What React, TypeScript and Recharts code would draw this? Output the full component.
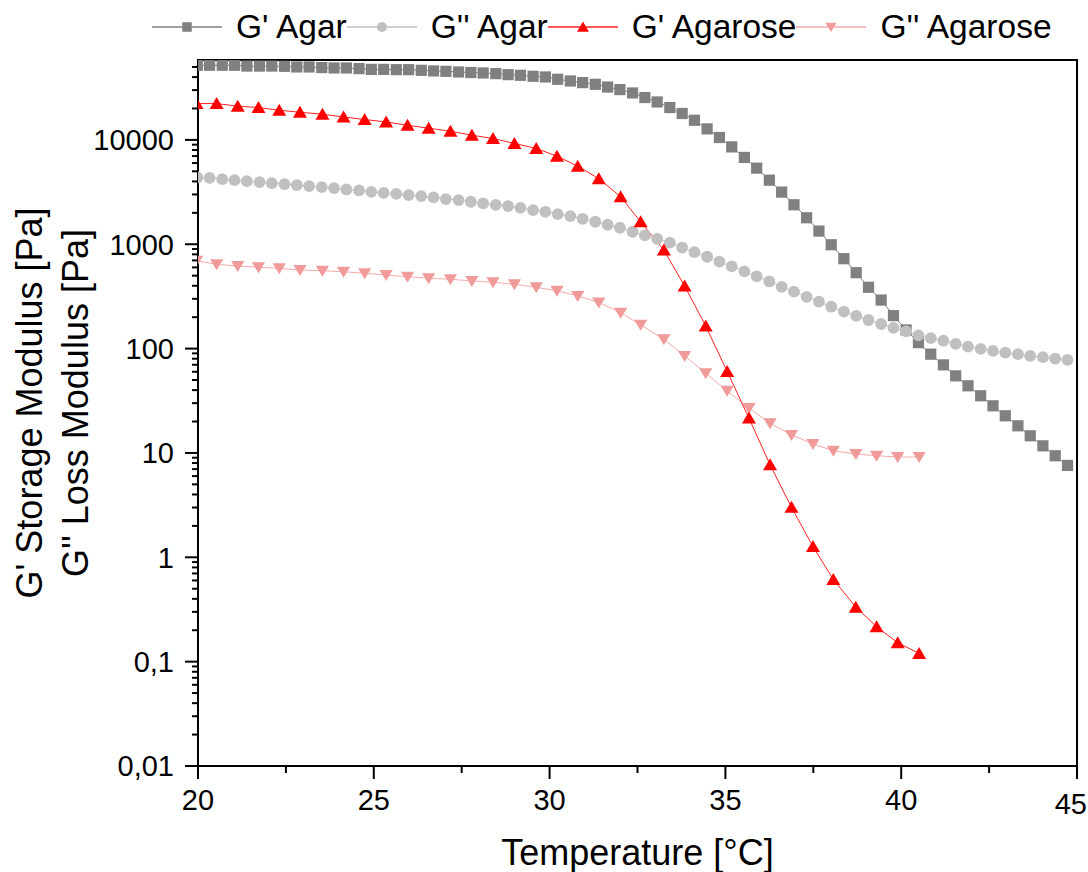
import React from 'react';
import { LineChart, Line, XAxis, YAxis, ReferenceArea, Label } from 'recharts';

// ---- Data ----
const agarTemp = [
  19.98, 20.33, 20.69, 21.04, 21.39, 21.75, 22.1, 22.46, 22.81, 23.16,
  23.52, 23.87, 24.22, 24.58, 24.93, 25.28, 25.64, 25.99, 26.35, 26.7,
  27.05, 27.41, 27.76, 28.11, 28.47, 28.82, 29.17, 29.53, 29.88, 30.23,
  30.59, 30.94, 31.3, 31.65, 32.0, 32.36, 32.71, 33.06, 33.42, 33.77,
  34.12, 34.48, 34.83, 35.18, 35.54, 35.89, 36.25, 36.6, 36.95, 37.31,
  37.66, 38.01, 38.37, 38.72, 39.07, 39.43, 39.78, 40.14, 40.49, 40.84,
  41.2, 41.55, 41.9, 42.26, 42.61, 42.96, 43.32, 43.67, 44.03, 44.38, 44.73,
];
const agarGp = [
  51900, 51900, 51900, 51900, 51000, 51000, 51000, 50700, 50000, 50000,
  49300, 48900, 48900, 48200, 47400, 47400, 47100, 47100, 46450, 45800,
  45400, 44770, 44200, 43800, 43150, 42200, 41600, 40700, 40100, 38100,
  36700, 35400, 34100, 32100, 30350, 28180, 25470, 23100, 20420, 17900,
  15420, 12750, 10540, 8570, 6790, 5360, 4110, 3160, 2390, 1794,
  1337, 989, 727, 534, 387, 292, 207, 151, 114, 88.4,
  69.8, 54.8, 44.0, 35.3, 28.3, 22.7, 18.2, 14.6, 11.7, 9.4, 7.59,
];
const agarGpp = [
  4365, 4330, 4205, 4115, 4025, 3940, 3850, 3770, 3690, 3610,
  3530, 3455, 3350, 3280, 3180, 3110, 3043, 2957, 2893, 2810,
  2710, 2650, 2553, 2463, 2388, 2320, 2235, 2124, 2047, 1946,
  1862, 1754, 1642, 1537, 1439, 1318, 1217, 1127, 1038, 930,
  841, 759, 682, 614, 550, 493, 440, 391, 351, 313,
  282, 252, 226, 206, 188, 172, 158, 146, 134, 126,
  119, 111, 104.5, 99.3, 95.1, 91.6, 88.4, 85.1, 82.8, 80.2, 78.0,
];
const agaroseTemp = [
  19.96, 20.53, 21.13, 21.72, 22.31, 22.9, 23.54, 24.14, 24.74, 25.35,
  25.96, 26.56, 27.18, 27.79, 28.39, 29.0, 29.62, 30.21, 30.8, 31.4,
  32.02, 32.59, 33.25, 33.84, 34.44, 35.05, 35.67, 36.27, 36.88, 37.49,
  38.07, 38.71, 39.3, 39.9, 40.51,
];
const agaroseGp = [
  22300, 22300, 21030, 20420, 19240, 18410, 17620, 16600, 15670, 14860,
  13820, 12940, 12110, 11090, 10310, 9240, 8280, 6990, 5600, 4250,
  2850, 1640, 880, 398, 165, 60.3, 21.6, 7.7, 3.01, 1.27,
  0.612, 0.333, 0.216, 0.152, 0.12,
];
const agaroseGpp = [
  695, 642, 619, 601, 588, 566, 558, 545, 527, 507,
  489, 472, 462, 445, 432, 413, 387, 358, 320, 277,
  221, 169, 123, 85, 58.2, 39.4, 26.9, 19.3, 14.9, 12.2,
  10.5, 9.76, 9.4, 9.14, 9.14,
];

const xMajorTicks = [20, 25, 30, 35, 40, 45];
const xMinorTicks = [22.5, 27.5, 32.5, 37.5, 42.5];
const yMajorTicks = [0.01, 0.1, 1, 10, 100, 1000, 10000];
const yMinorMultipliers = [2, 3, 4, 5, 6, 7, 8, 9];
const xDomain = [20, 45];
const yDomain = [0.01, 58300];

const seriesNames = ["G' Agar", "G'' Agar", "G' Agarose", "G'' Agarose"];

// ---- Derived tables ----
const yMinorTicks = yMajorTicks
  .flatMap((d) => yMinorMultipliers.map((m) => +(d * m).toPrecision(3)))
  .filter((v) => v < yDomain[1]);
const yAllTicks = [...yMajorTicks, ...yMinorTicks].sort((a, b) => a - b);
const xAllTicks = [...xMajorTicks, ...xMinorTicks].sort((a, b) => a - b);

const toRows = (ts: number[], vs: number[]) => ts.map((t, i) => ({ t, v: vs[i] }));

const FONT = "'Liberation Sans', Arial, Helvetica, sans-serif";

type Shape = 'square' | 'circle' | 'up' | 'down';

const series = [
  { name: seriesNames[0], data: toRows(agarTemp, agarGp), color: '#808080', line: '#808080', shape: 'square' as Shape },
  { name: seriesNames[1], data: toRows(agarTemp, agarGpp), color: '#C0C0C0', line: '#C0C0C0', shape: 'circle' as Shape },
  { name: seriesNames[3], data: toRows(agaroseTemp, agaroseGpp), color: '#F19A9A', line: '#F4AAAA', shape: 'down' as Shape },
  { name: seriesNames[2], data: toRows(agaroseTemp, agaroseGp), color: '#FF0000', line: '#FF2020', shape: 'up' as Shape },
];
const legendOrder = [0, 1, 3, 2];

function marker(shape: Shape, cx: number, cy: number, color: string, key?: string, k = 1) {
  if (shape === 'square') {
    const h = 5.6 * k;
    return <rect key={key} x={cx - h} y={cy - h} width={2 * h} height={2 * h} fill={color} />;
  }
  if (shape === 'circle') return <circle key={key} cx={cx} cy={cy} r={5.9 * k} fill={color} />;
  if (shape === 'up')
    return (
      <path
        key={key}
        d={`M${cx},${cy - 6.5 * k}L${cx + 7 * k},${cy + 5.5 * k}L${cx - 7 * k},${cy + 5.5 * k}Z`}
        fill={color}
      />
    );
  return (
    <path
      key={key}
      d={`M${cx},${cy + 6 * k}L${cx + 6.6 * k},${cy - 5 * k}L${cx - 6.6 * k},${cy - 5 * k}Z`}
      fill={color}
    />
  );
}

const isMajor = (list: number[], v: number) => list.some((m) => Math.abs(m - v) / Math.abs(m) < 1e-6);
const fmtY = (v: number) => String(v).replace('.', ',');

const YTick = (props: any) => {
  const { x, y, payload } = props;
  const v = payload.value;
  const major = isMajor(yMajorTicks, v);
  return (
    <g>
      <line x1={x} x2={x - (major ? 13 : 6)} y1={y} y2={y} stroke="#000" strokeWidth={2} />
      {major && (
        <text x={x - 24} y={y} dy="0.36em" textAnchor="end" fontSize={29} fontFamily={FONT} fill="#000">
          {fmtY(v)}
        </text>
      )}
    </g>
  );
};

const XTick = (props: any) => {
  const { x, y, payload } = props;
  const v = payload.value;
  const major = isMajor(xMajorTicks, v);
  const last = v === xMajorTicks[xMajorTicks.length - 1];
  return (
    <g>
      <line x1={x} x2={x} y1={y} y2={y + (major ? 13 : 7)} stroke="#000" strokeWidth={2} />
      {major && (
        <text
          x={last ? x + 10 : x}
          y={y + (last ? 48 : 44)}
          textAnchor={last ? 'end' : 'middle'}
          fontSize={29}
          fontFamily={FONT}
          fill="#000"
        >
          {v}
        </text>
      )}
    </g>
  );
};

const YTitle = (props: any) => {
  const vb = props.viewBox || {};
  const cy = vb.y + vb.height / 2 - 10;
  return (
    <g>
      <text x={42} y={cy} transform={`rotate(-90, 42, ${cy})`} textAnchor="middle" fontSize={36} fontFamily={FONT} fill="#000">
        G' Storage Modulus [Pa]
      </text>
      <text x={88} y={cy} transform={`rotate(-90, 88, ${cy})`} textAnchor="middle" fontSize={36} fontFamily={FONT} fill="#000">
        G'' Loss Modulus [Pa]
      </text>
    </g>
  );
};

const XTitle = (props: any) => {
  const vb = props.viewBox || {};
  const cx = vb.x + vb.width / 2;
  return (
    <text x={cx} y={865} textAnchor="middle" fontSize={36} fontFamily={FONT} fill="#000">
      Temperature [°C]
    </text>
  );
};

const LegendRow = () => (
  <div
    style={{
      position: 'absolute',
      left: 152,
      top: 10,
      display: 'flex',
      alignItems: 'center',
      fontFamily: FONT,
      fontSize: 33.5,
      lineHeight: '34px',
      color: '#000',
      whiteSpace: 'nowrap',
    }}
  >
    {legendOrder.map((i) => {
      const s = series[i];
      return (
        <div key={s.name} style={{ display: 'flex', alignItems: 'center' }}>
          <svg width={70} height={34} style={{ display: 'block' }}>
            <line x1={0} x2={70} y1={17} y2={17} stroke={s.line} strokeWidth={1.5} />
            {marker(s.shape, 35, 17, s.color, undefined, 0.85)}
          </svg>
          <span style={{ marginLeft: 14 }}>{s.name}</span>
        </div>
      );
    })}
  </div>
);

export default function App() {
  return (
    <div style={{ position: 'absolute', left: 0, top: 0, width: 1088, height: 872, background: '#fff' }}>
      <LineChart width={1088} height={872} margin={{ top: 60, right: 11, bottom: 0, left: 0 }}>
        <XAxis
          dataKey="t"
          type="number"
          domain={xDomain}
          allowDataOverflow
          ticks={xAllTicks}
          interval={0}
          tickSize={0}
          tickMargin={0}
          tickLine={false}
          tick={<XTick />}
          height={106}
          axisLine={{ stroke: '#000', strokeWidth: 2 }}
        >
          <Label content={<XTitle />} />
        </XAxis>
        <YAxis
          type="number"
          scale="log"
          domain={yDomain}
          allowDataOverflow
          ticks={yAllTicks}
          interval={0}
          tickSize={0}
          tickMargin={0}
          tickLine={false}
          tick={<YTick />}
          width={198}
          axisLine={{ stroke: '#000', strokeWidth: 2 }}
        >
          <Label content={<YTitle />} />
        </YAxis>
        {series.map((s) => (
          <Line
            key={s.name}
            name={s.name}
            data={s.data}
            dataKey="v"
            type="linear"
            stroke={s.line}
            strokeWidth={1}
            isAnimationActive={false}
            dot={(p: any) => marker(s.shape, p.cx, p.cy, s.color, `${s.name}-${p.index}`)}
            activeDot={false}
          />
        ))}
        <ReferenceArea
          x1={xDomain[0]}
          x2={xDomain[1]}
          y1={yDomain[0]}
          y2={yDomain[1]}
          fill="none"
          fillOpacity={0}
          stroke="#000"
          strokeWidth={2}
          ifOverflow="visible"
        />
      </LineChart>
      <LegendRow />
    </div>
  );
}
